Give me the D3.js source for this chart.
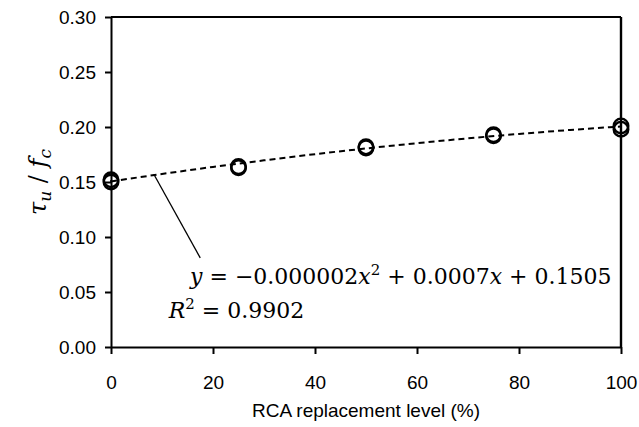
<!DOCTYPE html>
<html>
<head>
<meta charset="utf-8">
<script src="https://cdn.jsdelivr.net/npm/d3@7"></script>
<style>
  body { margin: 0; background: #fff; }
  .tick text { font-family: "Liberation Sans", Arial, sans-serif; font-size: 19px; fill: #000; }
  .math { font-family: "DejaVu Serif", "Liberation Serif", serif; fill: #000; }
</style>
</head>
<body>
<svg id="chart"></svg>
<script>
// measured points (two specimens per level)
const levels = [0, 0, 25, 25, 50, 50, 75, 75, 100, 100];
const ratios = [0.152, 0.150, 0.163, 0.164, 0.182, 0.181, 0.193, 0.192, 0.198, 0.201];

// trend line
const trendX = [0, 10, 20, 30, 40, 50, 60, 70, 80, 90, 100];
const trendY = [0.1505, 0.1573, 0.1637, 0.1697, 0.1753, 0.1805, 0.1853, 0.1897, 0.1937, 0.1973, 0.2005];

const xTicks = [0, 20, 40, 60, 80, 100];
const yTicks = [0, 0.05, 0.10, 0.15, 0.20, 0.25, 0.30];

const width = 639, height = 427;
const margin = {top: 17, right: 18, bottom: 80, left: 111};

const svg = d3.select('#chart').attr('width', width).attr('height', height);
const innerW = width - margin.left - margin.right;
const innerH = height - margin.top - margin.bottom;

const g = svg.append('g').attr('transform', `translate(${margin.left},${margin.top})`);

const x = d3.scaleLinear().domain([0, 100]).range([0, innerW]);
const y = d3.scaleLinear().domain([0, 0.30]).range([innerH, 0]);

// frame top / right
g.append('line').attr('x1', 0).attr('x2', innerW).attr('y1', 0).attr('y2', 0)
  .attr('stroke', '#000').attr('stroke-width', 1.8);
g.append('line').attr('x1', innerW).attr('x2', innerW).attr('y1', 0).attr('y2', innerH)
  .attr('stroke', '#000').attr('stroke-width', 2.4);

const xAxis = g.append('g').attr('transform', `translate(0,${innerH})`)
  .call(d3.axisBottom(x).tickValues(xTicks).tickSize(7).tickSizeOuter(0).tickFormat(d3.format('d')));
const yAxis = g.append('g')
  .call(d3.axisLeft(y).tickValues(yTicks).tickSize(6).tickSizeOuter(0).tickFormat(d3.format('.2f')));

[xAxis, yAxis].forEach(a => {
  a.select('.domain').attr('stroke', '#000').attr('stroke-width', 2);
  a.selectAll('.tick line').attr('stroke', '#000').attr('stroke-width', 2);
});
xAxis.selectAll('.tick text').attr('dy', 0).attr('y', 42);
yAxis.selectAll('.tick text').attr('x', -15).attr('dy', '0.35em');

// trend curve
const line = d3.line().x((d, i) => x(trendX[i])).y(d => y(d)).curve(d3.curveMonotoneX);
g.append('path').datum(trendY).attr('d', line)
  .attr('fill', 'none').attr('stroke', '#000').attr('stroke-width', 2)
  .attr('stroke-dasharray', '6,4');

// points
g.selectAll('circle.pt').data(ratios).join('circle').attr('class', 'pt')
  .attr('cx', (d, i) => x(levels[i])).attr('cy', d => y(d)).attr('r', 7.3)
  .attr('fill', 'none').attr('stroke', '#000').attr('stroke-width', 2.4);
g.append('circle').attr('cx', x(0)).attr('cy', y(0.151)).attr('r', 1).attr('fill', '#000');

// leader line from curve to equation
g.append('line')
  .attr('x1', x(8.4)).attr('y1', y(0.157))
  .attr('x2', x(17.5)).attr('y2', y(0.081))
  .attr('stroke', '#000').attr('stroke-width', 1.3);

// equation
const eq = g.append('text').attr('class', 'math').attr('x', x(15.5)).attr('y', y(0.0575))
  .attr('font-size', 22);
eq.append('tspan').attr('font-style', 'italic').text('y');
eq.append('tspan').text(' = −0.000002');
eq.append('tspan').attr('font-style', 'italic').text('x');
eq.append('tspan').attr('font-size', 15).attr('dy', -9).text('2');
eq.append('tspan').attr('dy', 9).text(' + 0.0007');
eq.append('tspan').attr('font-style', 'italic').text('x');
eq.append('tspan').text(' + 0.1505');

const r2 = g.append('text').attr('class', 'math').attr('x', x(11.3)).attr('y', y(0.0265))
  .attr('font-size', 22);
r2.append('tspan').attr('font-style', 'italic').text('R');
r2.append('tspan').attr('font-size', 15).attr('dy', -9).text('2');
r2.append('tspan').attr('dy', 9).text(' = 0.9902');

// axis titles
svg.append('text').attr('x', margin.left + innerW / 2).attr('y', 417)
  .attr('text-anchor', 'middle')
  .attr('font-family', '"Liberation Sans", Arial, sans-serif').attr('font-size', 19)
  .text('RCA replacement level (%)');

const yl = svg.append('text').attr('class', 'math')
  .attr('transform', `translate(46,${margin.top + innerH / 2}) rotate(-90)`)
  .attr('text-anchor', 'middle').attr('font-size', 24);
yl.append('tspan').attr('font-style', 'italic').text('τ');
yl.append('tspan').attr('font-style', 'italic').attr('font-size', 17).attr('dy', 5).text('u');
yl.append('tspan').attr('dy', -5).text(' / ');
yl.append('tspan').attr('font-style', 'italic').text('f');
yl.append('tspan').attr('font-style', 'italic').attr('font-size', 17).attr('dy', 5).text('c');
</script>
</body>
</html>
